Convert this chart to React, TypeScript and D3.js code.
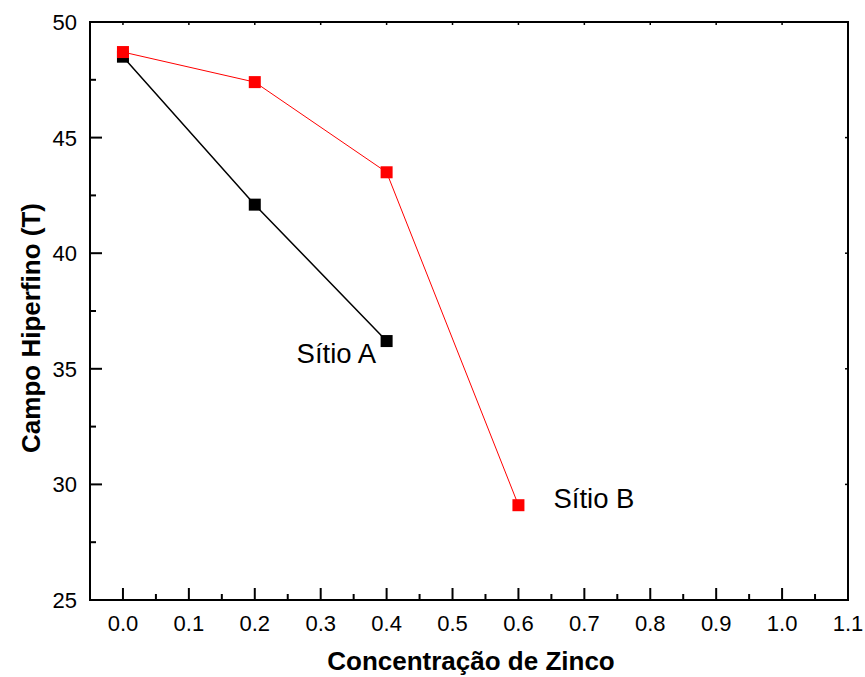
import React from "react";
import * as d3 from "d3";

const concA = [0.0, 0.2, 0.4];
const fieldA = [48.5, 42.1, 36.2];
const concB = [0.0, 0.2, 0.4, 0.6];
const fieldB = [48.7, 47.4, 43.5, 29.1];
const xTicks = [0.0, 0.1, 0.2, 0.3, 0.4, 0.5, 0.6, 0.7, 0.8, 0.9, 1.0, 1.1];
const yTicks = [25, 30, 35, 40, 45, 50];
const labels = [
  { text: "Sítio A", x: 0.4, y: 36.2, dx: -90, dy: 22 },
  { text: "Sítio B", x: 0.6, y: 29.1, dx: 35, dy: 3 },
];

export default function App() {
  const W = 865, H = 677;
  const L = 90, R = 848, T = 22, B = 600;
  const x = d3.scaleLinear().domain([-0.05, 1.1]).range([L, R]);
  const y = d3.scaleLinear().domain([25, 50]).range([B, T]);
  const xMinor = d3.range(-0.05, 1.1, 0.1).map((v) => +v.toFixed(2)).filter((v) => v > -0.04);
  const yMinor = d3.range(27.5, 50, 5);
  const line = d3.line<[number, number]>().x((d) => x(d[0])).y((d) => y(d[1]));
  const ptsA = concA.map((c, i) => [c, fieldA[i]] as [number, number]);
  const ptsB = concB.map((c, i) => [c, fieldB[i]] as [number, number]);
  const font = "'Liberation Sans', Arial, sans-serif";
  const ms = 12;
  return (
    <svg width={W} height={H} style={{ position: "absolute", left: 0, top: 0, background: "#fff" }}>
      <rect width={W} height={H} fill="#fff" />
      {xTicks.map((t) => (
        <g key={"xt" + t}>
          <line x1={x(t)} x2={x(t)} y1={B} y2={B - 12} stroke="#000" strokeWidth={2} />
          <line x1={x(t)} x2={x(t)} y1={T} y2={T + 3} stroke="#000" strokeWidth={1.5} />
          <text x={x(t)} y={B + 31} fontSize={22} fontFamily={font} textAnchor="middle">{t.toFixed(1)}</text>
        </g>
      ))}
      {xMinor.map((t) => (
        <line key={"xm" + t} x1={x(t)} x2={x(t)} y1={B} y2={B - 6} stroke="#000" strokeWidth={2} />
      ))}
      {yTicks.map((t) => (
        <g key={"yt" + t}>
          <line x1={L} x2={L + 12} y1={y(t)} y2={y(t)} stroke="#000" strokeWidth={2} />
          <line x1={R} x2={R - 3} y1={y(t)} y2={y(t)} stroke="#000" strokeWidth={1.5} />
          <text x={L - 13} y={y(t) + 8} fontSize={22} fontFamily={font} textAnchor="end">{t}</text>
        </g>
      ))}
      {yMinor.map((t) => (
        <line key={"ym" + t} x1={L} x2={L + 6} y1={y(t)} y2={y(t)} stroke="#000" strokeWidth={2} />
      ))}
      <rect x={L} y={T} width={R - L} height={B - T} fill="none" stroke="#000" strokeWidth={2} />
      <path d={line(ptsA) || ""} fill="none" stroke="#000" strokeWidth={1.5} />
      {ptsA.map((p, i) => (
        <rect key={"a" + i} x={x(p[0]) - ms / 2} y={y(p[1]) - ms / 2} width={ms} height={ms} fill="#000" />
      ))}
      <path d={line(ptsB) || ""} fill="none" stroke="#ff0000" strokeWidth={1} />
      {ptsB.map((p, i) => (
        <rect key={"b" + i} x={x(p[0]) - ms / 2} y={y(p[1]) - ms / 2} width={ms} height={ms} fill="#ff0000" />
      ))}
      {labels.map((l) => (
        <text key={l.text} x={x(l.x) + l.dx} y={y(l.y) + l.dy} fontSize={27.5} fontFamily={font}>{l.text}</text>
      ))}
      <text x={471} y={670} fontSize={26} fontWeight="bold" fontFamily={font} textAnchor="middle">Concentração de Zinco</text>
      <text transform={`translate(40,328) rotate(-90)`} fontSize={26} fontWeight="bold" fontFamily={font} textAnchor="middle">Campo Hiperfino (T)</text>
    </svg>
  );
}
